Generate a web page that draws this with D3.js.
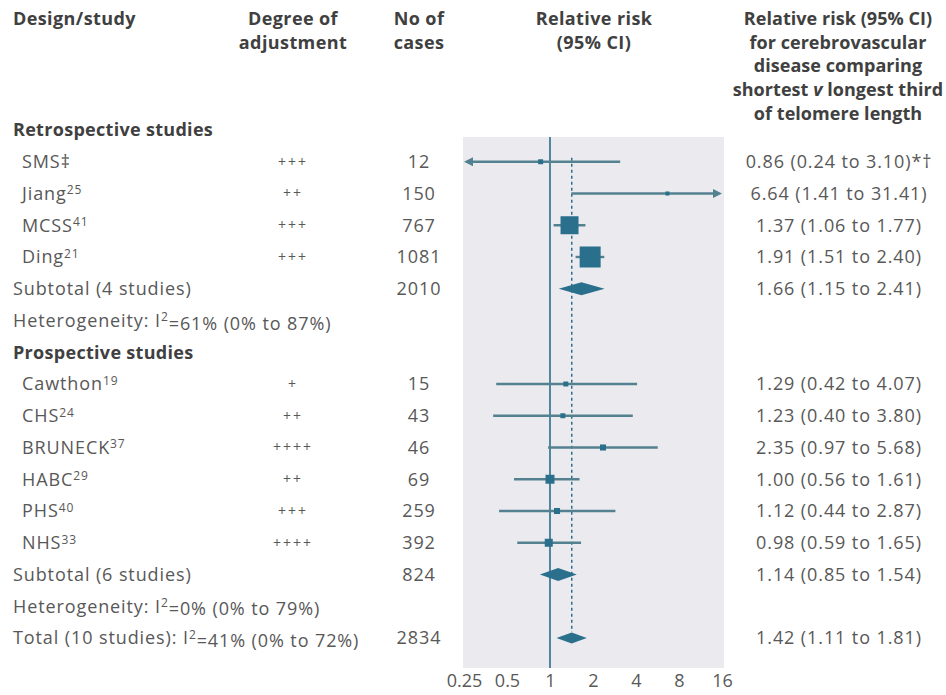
<!DOCTYPE html>
<html>
<head>
<meta charset="utf-8">
<script src="https://cdn.jsdelivr.net/npm/d3@7"></script>
<style>
  body { margin: 0; background: #fff; }
  text { font-family: "Open Sans", "Noto Sans", sans-serif; }
</style>
</head>
<body>
<div class="chart"></div>
<script>
// ---- data ----
var studies = ["SMS‡", "Jiang", "MCSS", "Ding", "Cawthon", "CHS", "BRUNECK", "HABC", "PHS", "NHS"];
var refs = ["", "25", "41", "21", "19", "24", "37", "29", "40", "33"];
var design = ["retro", "retro", "retro", "retro", "pro", "pro", "pro", "pro", "pro", "pro"];
var adjustment = ["+++", "++", "+++", "+++", "+", "++", "++++", "++", "+++", "++++"];
var cases = [12, 150, 767, 1081, 15, 43, 46, 69, 259, 392];
var rr = [0.86, 6.64, 1.37, 1.91, 1.29, 1.23, 2.35, 1.00, 1.12, 0.98];
var lower = [0.24, 1.41, 1.06, 1.51, 0.42, 0.40, 0.97, 0.56, 0.44, 0.59];
var upper = [3.10, 31.41, 1.77, 2.40, 4.07, 3.80, 5.68, 1.61, 2.87, 1.65];
var rrNote = ["*†", "", "", "", "", "", "", "", "", ""];
// relative weight
var weight = [2.3, 1.5, 30.2, 41.1, 2.3, 2.3, 3.4, 7.5, 3.4, 6.0];

var subLabels = ["Subtotal (4 studies)", "Subtotal (6 studies)"];
var subCases = [2010, 824];
var subRR = [1.66, 1.14];
var subLower = [1.15, 0.85];
var subUpper = [2.41, 1.54];
var hetI2 = ["61%", "0%"];
var hetCI = ["(0% to 87%)", "(0% to 79%)"];

var totalLabel = "Total (10 studies): ";
var totalI2 = "41%";
var totalCI = "(0% to 72%)";
var totalCases = 2834;
var totalRR = 1.42, totalLower = 1.11, totalUpper = 1.81;

var tickValues = [0.25, 0.5, 1, 2, 4, 8, 16];

// ---- layout ----
var svgWidth = 946;
var svgHeight = 695;
var teal = "#2a6f8c";
var ciColor = "#54818f";
var textColor = "#585858";
var headColor = "#404040";
var fontSize = 18;

var svg = d3.select(".chart")
    .append("svg")
    .attr("width", svgWidth)
    .attr("height", svgHeight);

var col = { name: 13, indent: 22, adj: 293, cases: 419, rrHead: 594, text: 839 };
var panel = { left: 463, right: 724, top: 137, bottom: 668 };

var x = d3.scaleLog().domain([0.25, 16]).range([464, 722]);
var fmt = d3.format(".2f");

// build the row list
var rows = [];
rows.push({ key: "h1", type: "group", label: "Retrospective studies" });
studies.forEach(function(s, i) { if (design[i] == "retro") rows.push({ key: "s" + i, type: "study", i: i }); });
rows.push({ key: "sub0", type: "sub", i: 0 });
rows.push({ key: "het0", type: "het", i: 0 });
rows.push({ key: "h2", type: "group", label: "Prospective studies" });
studies.forEach(function(s, i) { if (design[i] == "pro") rows.push({ key: "s" + i, type: "study", i: i }); });
rows.push({ key: "sub1", type: "sub", i: 1 });
rows.push({ key: "het1", type: "het", i: 1 });
rows.push({ key: "total", type: "total" });

var y = d3.scalePoint().domain(rows.map(d => d.key)).range([130, 638]);

// panel background
svg.append("rect")
    .attr("x", panel.left)
    .attr("y", panel.top)
    .attr("width", panel.right - panel.left)
    .attr("height", panel.bottom - panel.top)
    .attr("fill", "#ebebef");

// headers
function headLines(xPos, y0, lines, spacing) {
    var t = svg.append("text")
        .attr("x", xPos)
        .attr("text-anchor", xPos == col.name ? "start" : "middle")
        .attr("font-size", fontSize)
        .attr("font-weight", "bold")
        .attr("letter-spacing", spacing)
        .attr("fill", headColor);
    lines.forEach(function(l, k) {
        t.append("tspan").attr("x", xPos).attr("y", y0 + k * 23.7).text(l);
    });
    return t;
}
headLines(col.name, 25, ["Design/study"], 0.4);
headLines(col.adj, 25, ["Degree of", "adjustment"], 0.4);
headLines(col.cases, 25, ["No of", "cases"], 0.4);
headLines(col.rrHead, 25, ["Relative risk", "(95% CI)"], 0.4);
var rh = headLines(col.text - 1, 25, ["Relative risk (95% CI)", "for cerebrovascular", "disease comparing", "shortest ", "of telomere length"], 0.05);
// italic v in line 4
var l4 = rh.selectAll("tspan").filter((d, k) => k == 3);
l4.append("tspan").attr("font-style", "italic").text("v");
l4.append("tspan").text(" longest third");

// left-hand text columns
var textG = svg.append("g")
    .attr("font-size", fontSize)
    .attr("letter-spacing", 0.9)
    .attr("fill", textColor);

rows.forEach(function(r) {
    var yy = y(r.key);
    if (r.type == "group") {
        textG.append("text").attr("x", col.name).attr("y", yy).attr("dy", "0.35em")
            .attr("font-weight", "bold").attr("letter-spacing", 0.3)
            .attr("fill", headColor).text(r.label);
    } else if (r.type == "study") {
        var i = r.i;
        var t = textG.append("text").attr("x", col.indent).attr("y", yy).attr("dy", "0.35em").text(studies[i]);
        if (refs[i]) t.append("tspan").attr("dy", "-0.45em").attr("font-size", 12).text(refs[i]);
        textG.append("text").attr("x", col.adj).attr("y", yy).attr("dy", "0.35em")
            .attr("text-anchor", "middle").attr("font-size", 14).attr("letter-spacing", 2).text(adjustment[i]);
        textG.append("text").attr("x", col.cases).attr("y", yy).attr("dy", "0.35em")
            .attr("text-anchor", "middle").text(cases[i]);
        textG.append("text").attr("x", col.text).attr("y", yy).attr("dy", "0.35em")
            .attr("text-anchor", "middle")
            .text(fmt(rr[i]) + " (" + fmt(lower[i]) + " to " + fmt(upper[i]) + ")" + rrNote[i]);
    } else if (r.type == "sub") {
        var j = r.i;
        textG.append("text").attr("x", col.name).attr("y", yy).attr("dy", "0.35em").text(subLabels[j]);
        textG.append("text").attr("x", col.cases).attr("y", yy).attr("dy", "0.35em")
            .attr("text-anchor", "middle").text(subCases[j]);
        textG.append("text").attr("x", col.text).attr("y", yy).attr("dy", "0.35em")
            .attr("text-anchor", "middle")
            .text(fmt(subRR[j]) + " (" + fmt(subLower[j]) + " to " + fmt(subUpper[j]) + ")");
    } else if (r.type == "het") {
        var h = textG.append("text").attr("x", col.name).attr("y", yy).attr("dy", "0.35em").text("Heterogeneity: I");
        h.append("tspan").attr("dy", "-0.45em").attr("font-size", 12).text("2");
        h.append("tspan").attr("dy", "0.45em").text("=" + hetI2[r.i] + " " + hetCI[r.i]);
    } else if (r.type == "total") {
        var tt = textG.append("text").attr("x", col.name).attr("y", yy).attr("dy", "0.35em").text(totalLabel + "I");
        tt.append("tspan").attr("dy", "-0.45em").attr("font-size", 12).text("2");
        tt.append("tspan").attr("dy", "0.45em").text("=" + totalI2 + " " + totalCI);
        textG.append("text").attr("x", col.cases).attr("y", yy).attr("dy", "0.35em")
            .attr("text-anchor", "middle").text(totalCases);
        textG.append("text").attr("x", col.text).attr("y", yy).attr("dy", "0.35em")
            .attr("text-anchor", "middle")
            .text(fmt(totalRR) + " (" + fmt(totalLower) + " to " + fmt(totalUpper) + ")");
    }
});

// reference lines
svg.append("line")
    .attr("x1", x(1)).attr("x2", x(1))
    .attr("y1", panel.top).attr("y2", panel.bottom)
    .attr("stroke", teal).attr("stroke-width", 1.6);

svg.append("line")
    .attr("x1", x(totalRR)).attr("x2", x(totalRR))
    .attr("y1", y("s0") - 4).attr("y2", y("total") - 6)
    .attr("stroke", teal).attr("stroke-width", 1.5)
    .attr("stroke-dasharray", "3,3");

// study CIs, clipped to the axis range with arrows
var xMin = x.domain()[0], xMax = x.domain()[1];
var studyRows = rows.filter(r => r.type == "study");
var ciG = svg.append("g");

studyRows.forEach(function(r) {
    var i = r.i, yy = y(r.key);
    var lo = Math.max(lower[i], xMin), hi = Math.min(upper[i], xMax);
    var x1 = x(lo) + (lower[i] < xMin ? 3 : 0);
    var x2 = x(hi) - (upper[i] > xMax ? 3 : 0);
    ciG.append("line")
        .attr("x1", x1).attr("x2", x2)
        .attr("y1", yy).attr("y2", yy)
        .attr("stroke", ciColor).attr("stroke-width", 2.4);
    if (lower[i] < xMin) {
        var ax = x(xMin);
        ciG.append("path")
            .attr("d", `M${ax},${yy} L${ax + 9},${yy - 4.5} L${ax + 9},${yy + 4.5} Z`)
            .attr("fill", ciColor);
    }
    if (upper[i] > xMax) {
        var bx = x(xMax);
        ciG.append("path")
            .attr("d", `M${bx},${yy} L${bx - 9},${yy - 4.5} L${bx - 9},${yy + 4.5} Z`)
            .attr("fill", ciColor);
    }
});

// weight boxes
var size = d3.scaleSqrt().domain([0, d3.max(weight)]).range([0, 21]);
ciG.selectAll("rect.box")
    .data(studyRows)
    .join("rect")
    .attr("class", "box")
    .attr("x", d => x(rr[d.i]) - Math.max(size(weight[d.i]), 4) / 2)
    .attr("y", d => y(d.key) - Math.max(size(weight[d.i]), 4) / 2)
    .attr("width", d => Math.max(size(weight[d.i]), 4))
    .attr("height", d => Math.max(size(weight[d.i]), 4))
    .attr("fill", teal);

// pooled diamonds
var diamonds = [
    { key: "sub0", rr: subRR[0], lo: subLower[0], hi: subUpper[0], h: 6.5 },
    { key: "sub1", rr: subRR[1], lo: subLower[1], hi: subUpper[1], h: 6.5 },
    { key: "total", rr: totalRR, lo: totalLower, hi: totalUpper, h: 5.5 }
];
svg.selectAll("path.diamond")
    .data(diamonds)
    .join("path")
    .attr("class", "diamond")
    .attr("d", function(d) {
        var yy = y(d.key);
        return `M${x(d.lo)},${yy} L${x(d.rr)},${yy - d.h} L${x(d.hi)},${yy} L${x(d.rr)},${yy + d.h} Z`;
    })
    .attr("fill", teal);

// x axis
var bottomAxis = d3.axisBottom(x)
    .tickValues(tickValues)
    .tickSize(0)
    .tickPadding(6)
    .tickFormat(d => d);

var xAxis = svg.append("g")
    .attr("transform", `translate(0,${panel.bottom})`)
    .call(bottomAxis);
xAxis.select(".domain").remove();
xAxis.selectAll("text")
    .attr("font-size", fontSize)
    .attr("font-family", "'Open Sans', 'Noto Sans', sans-serif")
    .attr("fill", textColor);
</script>
</body>
</html>
